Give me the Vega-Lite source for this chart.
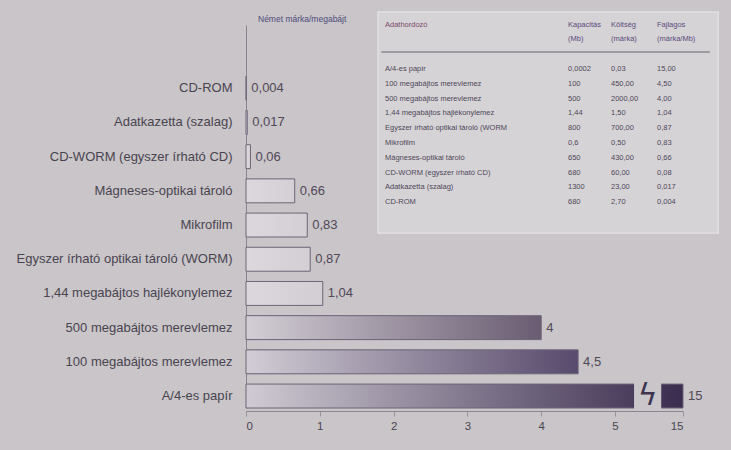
{
  "$schema": "https://vega.github.io/schema/vega-lite/v6.json",
  "width": 437,
  "height": 383,
  "autosize": {"type": "none"},
  "padding": {"left": 246, "top": 25, "right": 48, "bottom": 42},
  "background": "#c9c5c9",
  "config": {
    "view": {"stroke": null},
    "font": "Liberation Sans",
    "locale": {"number": {"decimal": ",", "thousands": " ", "grouping": [3], "currency": ["", ""]}}
  },
  "title": {
    "text": "Német márka/megabájt",
    "anchor": "start",
    "frame": "group",
    "offset": -12,
    "dx": 12,
    "fontSize": 8.5,
    "fontWeight": "normal",
    "color": "#4e4a7a",
    "font": "Liberation Sans"
  },
  "datasets": {
    "bars": [
      {"name": "CD-ROM", "value": 0.004},
      {"name": "Adatkazetta (szalag)", "value": 0.017},
      {"name": "CD-WORM (egyszer írható CD)", "value": 0.06},
      {"name": "Mágneses-optikai tároló", "value": 0.66},
      {"name": "Mikrofilm", "value": 0.83},
      {"name": "Egyszer írható optikai tároló (WORM)", "value": 0.87},
      {"name": "1,44 megabájtos hajlékonylemez", "value": 1.04},
      {"name": "500 megabájtos merevlemez", "value": 4},
      {"name": "100 megabájtos merevlemez", "value": 4.5},
      {"name": "A/4-es papír", "value": 15}
    ],
    "table": [
      {"row": -3, "name": "Adathordozó", "cap": "Kapacitás", "cost": "Költség", "spec": "Fajlagos"},
      {"row": -2, "name": "", "cap": "(Mb)", "cost": "(márka)", "spec": "(márka/Mb)"},
      {"row": 0, "name": "A/4-es papír", "cap": "0,0002", "cost": "0,03", "spec": "15,00"},
      {"row": 1, "name": "100 megabájtos merevlemez", "cap": "100", "cost": "450,00", "spec": "4,50"},
      {"row": 2, "name": "500 megabájtos merevlemez", "cap": "500", "cost": "2000,00", "spec": "4,00"},
      {"row": 3, "name": "1,44 megabájtos hajlékonylemez", "cap": "1,44", "cost": "1,50", "spec": "1,04"},
      {"row": 4, "name": "Egyszer írható optikai tároló (WORM", "cap": "800", "cost": "700,00", "spec": "0,87"},
      {"row": 5, "name": "Mikrofilm", "cap": "0,6", "cost": "0,50", "spec": "0,83"},
      {"row": 6, "name": "Mágneses-optikai tároló", "cap": "650", "cost": "430,00", "spec": "0,66"},
      {"row": 7, "name": "CD-WORM (egyszer írható CD)", "cap": "680", "cost": "60,00", "spec": "0,08"},
      {"row": 8, "name": "Adatkazetta (szalag)", "cap": "1300", "cost": "23,00", "spec": "0,017"},
      {"row": 9, "name": "CD-ROM", "cap": "680", "cost": "2,70", "spec": "0,004"}
    ]
  },
  "resolve": {"scale": {"x": "independent", "y": "independent"}, "axis": {"x": "independent", "y": "independent"}},
  "layer": [
    {
      "data": {"name": "bars"},
      "encoding": {
        "x": {
          "field": "value",
          "type": "quantitative",
          "scale": {"domain": [0, 5, 15], "range": [0, 369, 437], "nice": false, "zero": false},
          "axis": {
            "values": [0, 1, 2, 3, 4, 5, 15],
            "title": null,
            "offset": 3,
            "grid": false,
            "tickSize": 5,
            "tickColor": "#9a949c",
            "domainColor": "#8a8490",
            "labelFontSize": 11.5,
            "labelColor": "#4a4450",
            "labelPadding": 4,
            "format": "~g"
          }
        },
        "y": {
          "field": "name",
          "type": "nominal",
          "sort": null,
          "scale": {"paddingInner": 0.3, "paddingOuter": 0.75, "align": 1},
          "axis": {
            "title": null,
            "ticks": false,
            "labelFontSize": 13,
            "labelColor": "#4a4450",
            "labelPadding": 14,
            "domainColor": "#8a8490",
            "labelLimit": 300
          }
        }
      },
      "layer": [
        {
          "mark": {"type": "bar"},
          "encoding": {
            "color": {
              "field": "value",
              "type": "quantitative",
              "scale": {
                "domain": [0, 1.1, 4, 4.5, 15],
                "range": ["#d8d4d8", "#d2ced4", "#6a5c72", "#584a6c", "#3a2c4e"]
              },
              "legend": null
            }
          }
        },
        {
          "mark": {
            "type": "bar",
            "stroke": "#6e6478",
            "strokeWidth": 1,
            "fill": {
              "gradient": "linear",
              "x1": 0, "y1": 0, "x2": 1, "y2": 0,
              "stops": [
                {"offset": 0, "color": "rgba(220,216,222,0.92)"},
                {"offset": 0.5, "color": "rgba(220,216,222,0.45)"},
                {"offset": 1, "color": "rgba(220,216,222,0)"}
              ]
            }
          }
        },
        {
          "mark": {"type": "text", "align": "left", "baseline": "middle", "dx": 5, "fontSize": 13, "color": "#514858"},
          "encoding": {"text": {"field": "value", "type": "quantitative", "format": "~g"}}
        },
        {
          "transform": [{"filter": "datum.value > 10"}],
          "mark": {"type": "bar", "color": "#c9c5c9", "height": {"band": 1.25}},
          "encoding": {
            "x": {"datum": 7.8, "type": "quantitative"},
            "x2": {"datum": 11.8}
          }
        },
        {
          "transform": [{"filter": "datum.value > 10"}],
          "mark": {"type": "text", "text": "ϟ", "font": "DejaVu Sans", "fontSize": 30, "color": "#3e3450", "align": "center", "baseline": "middle"},
          "encoding": {
            "x": {"datum": 9.8, "type": "quantitative"}
          }
        }
      ]
    },
    {
      "data": {"name": "table"},
      "layer": [
        {
          "data": {"values": [{}]},
          "mark": {"type": "rect", "fill": "#d6d3d7", "stroke": "#e2e0e4", "strokeWidth": 1.5},
          "encoding": {
            "x": {"datum": -0.038, "type": "quantitative", "scale": {"domain": [0, 1, 2, 3], "range": [139, 322, 365, 411], "zero": false, "nice": false}, "axis": null},
            "x2": {"datum": 4.33},
            "y": {"datum": -3.85, "type": "quantitative", "scale": {"domain": [0, 9], "range": [44, 177.2], "zero": false, "nice": false}, "axis": null},
            "y2": {"datum": 11.08}
          }
        },
        {
          "data": {"values": [{}]},
          "mark": {"type": "rule", "color": "#8e8892", "strokeWidth": 1.5},
          "encoding": {
            "x": {"datum": -0.02, "type": "quantitative"},
            "x2": {"datum": 4.15},
            "y": {"datum": -1.15, "type": "quantitative"}
          }
        },
        {
          "mark": {"type": "text", "align": "left", "baseline": "middle", "fontSize": 7.5},
          "encoding": {
            "x": {"datum": 0, "type": "quantitative"},
            "y": {"field": "row", "type": "quantitative"},
            "text": {"field": "name"},
            "color": {"condition": {"test": "datum.row < 0", "value": "#7a4a6a"}, "value": "#4e4658"},
            "fontWeight": {"condition": {"test": "datum.row < 0", "value": "bold"}, "value": "normal"}
          }
        },
        {
          "mark": {"type": "text", "align": "left", "baseline": "middle", "fontSize": 7.5},
          "encoding": {
            "x": {"datum": 1, "type": "quantitative"},
            "y": {"field": "row", "type": "quantitative"},
            "text": {"field": "cap"},
            "color": {"condition": {"test": "datum.row < 0", "value": "#5a4a7a"}, "value": "#4e4658"},
            "fontWeight": {"condition": {"test": "datum.row < 0", "value": "bold"}, "value": "normal"}
          }
        },
        {
          "mark": {"type": "text", "align": "left", "baseline": "middle", "fontSize": 7.5},
          "encoding": {
            "x": {"datum": 2, "type": "quantitative"},
            "y": {"field": "row", "type": "quantitative"},
            "text": {"field": "cost"},
            "color": {"condition": {"test": "datum.row < 0", "value": "#5a4a7a"}, "value": "#4e4658"},
            "fontWeight": {"condition": {"test": "datum.row < 0", "value": "bold"}, "value": "normal"}
          }
        },
        {
          "mark": {"type": "text", "align": "left", "baseline": "middle", "fontSize": 7.5},
          "encoding": {
            "x": {"datum": 3, "type": "quantitative"},
            "y": {"field": "row", "type": "quantitative"},
            "text": {"field": "spec"},
            "color": {"condition": {"test": "datum.row < 0", "value": "#5a4a7a"}, "value": "#4e4658"},
            "fontWeight": {"condition": {"test": "datum.row < 0", "value": "bold"}, "value": "normal"}
          }
        }
      ]
    }
  ]
}
